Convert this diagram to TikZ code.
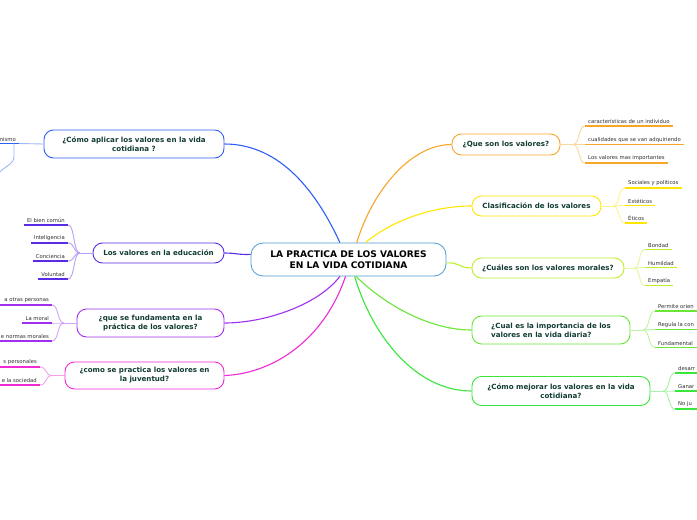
\documentclass[tikz,border=0pt]{standalone}
\usepackage{fontspec}
\setmainfont{DejaVu Sans}
\definecolor{cblue}{HTML}{4A9AD4}
\definecolor{orng}{HTML}{F7A52B}
\definecolor{ylw}{HTML}{FFE600}
\definecolor{ygrn}{HTML}{BDF02A}
\definecolor{grn1}{HTML}{6BE637}
\definecolor{grn2}{HTML}{39E639}
\definecolor{blu}{HTML}{2F5FF5}
\definecolor{pblu}{HTML}{5A2BE6}
\definecolor{prp}{HTML}{A030EE}
\definecolor{mag}{HTML}{F02AD5}
\definecolor{tdark}{HTML}{123C33}
\definecolor{tgray}{HTML}{2E2E2E}
\tikzset{
  cnode/.style={draw=cblue, line width=0.8pt, rounded corners=12pt, fill=white, align=center,
    font=\bfseries\fontsize{9.1}{11}\selectfont, text=black, inner sep=0pt,
    minimum width=195pt, minimum height=33pt},
  topic/.style={draw=#1, line width=0.9pt, rounded corners=9.5pt, fill=white, align=center,
    font=\bfseries\fontsize{7.1}{9}\selectfont, text=tdark, inner sep=0pt},
  sub/.style={font=\fontsize{5.3}{6.3}\selectfont, text=tgray, inner xsep=3pt, inner ysep=1.8pt,
    append after command={(\tikzlastnode.south west) edge[draw=#1, line width=1.6pt] (\tikzlastnode.south east)}},
  ul/.style={draw=#1, line width=1.6pt},
  conn/.style={draw=#1, line width=1.1pt},
  br/.style={draw=#1!45!white, line width=0.9pt},
}
\begin{document}
\begin{tikzpicture}[x=1pt,y=-1pt]
\fill[white] (0,0) rectangle (697,520);
\path[use as bounding box] (0,0) rectangle (697,520);
\coordinate (o) at (0,0);
\coordinate (r) at (697,0);
\begin{scope}
\clip (0,0) rectangle (697,520);
% center
\node[cnode] (c) at (348.5,259.5) {LA PRACTICA DE LOS VALORES\\EN LA VIDA COTIDIANA};
% right topics
\node[topic=orng, minimum width=108pt, minimum height=21pt] (t1) at (506,144.5) {¿Que son los valores?};
\node[topic=ylw, minimum width=129pt, minimum height=20pt] (t2) at (536.5,206) {Clasificación de los valores};
\node[topic=ygrn, minimum width=152pt, minimum height=20pt] (t3) at (548,268) {¿Cuáles son los valores morales?};
\node[topic=grn1, minimum width=158pt, minimum height=28pt, align=left] (t4) at (551,330) {¿Cual es la importancia de los\\valores en la vida diaria?};
\node[topic=grn2, minimum width=178pt, minimum height=29pt] (t5) at (561,391) {¿Cómo mejorar los valores en la vida\\cotidiana?};
% left topics
\node[topic=blu, minimum width=180pt, minimum height=28pt] (t6) at (134,144) {¿Cómo aplicar los valores en la vida\\cotidiana ?};
\node[topic=pblu, minimum width=131pt, minimum height=20pt] (t7) at (158.5,253) {Los valores en la educación};
\node[topic=prp, minimum width=147pt, minimum height=28pt] (t8) at (150.5,323) {¿que se fundamenta en la\\práctica de los valores?};
\node[topic=mag, minimum width=159pt, minimum height=27pt] (t9) at (144.5,375.5) {¿como se practica los valores en\\la juventud?};
% main connectors
\draw[conn=blu] (c.117) .. controls (318,195) and (282,144) .. (t6.east);
\draw[conn=orng] (c.64) .. controls (372,192) and (410,144.5) .. (t1.west);
\draw[conn=ylw] (c.45) .. controls (398,216) and (440,206) .. (t2.west);
\draw[conn=ygrn] (c.-2) .. controls (460,262) and (458,268) .. (t3.west);
\draw[conn=grn1] (c.-66) .. controls (385,305) and (430,330) .. (t4.west);
\draw[conn=grn2] (c.-70) .. controls (372,335) and (415,391) .. (t5.west);
\draw[conn=pblu] (c.177) .. controls (240,255) and (235,253) .. (t7.east);
\draw[conn=prp] (c.-117) .. controls (318,305) and (265,323) .. (t8.east);
\draw[conn=mag] (c.-100) .. controls (322,345) and (268,374) .. (t9.east);
% orange subtopics
\coordinate (f1) at (573,144.5);
\node[sub=orng, anchor=south west] (s11) at (585,126) {características de un individuo};
\node[sub=orng, anchor=south west] (s12) at (585,144.5) {cualidades que se van adquiriendo};
\node[sub=orng, anchor=south west] (s13) at (585,163) {Los valores mas importantes};
\draw[br=orng] (t1.east) -- (f1);
\foreach \s in {s11,s12,s13} \draw[br=orng] (f1) .. controls +(7,0) and +(-7,0) .. (\s.south west);
% yellow subtopics
\coordinate (f2) at (613,206);
\node[sub=ylw, anchor=south west] (s21) at (625,188) {Sociales y políticos};
\node[sub=ylw, anchor=south west] (s22) at (625,205.5) {Estéticos};
\node[sub=ylw, anchor=south west] (s23) at (625,223) {Éticos};
\draw[br=ylw] (t2.east) -- (f2);
\foreach \s in {s21,s22,s23} \draw[br=ylw] (f2) .. controls +(7,0) and +(-7,0) .. (\s.south west);
% yellow-green subtopics
\coordinate (f3) at (634,268);
\node[sub=ygrn, anchor=south west] (s31) at (645,249.5) {Bondad};
\node[sub=ygrn, anchor=south west] (s32) at (645,267.5) {Humildad};
\node[sub=ygrn, anchor=south west] (s33) at (645,285.5) {Empatía};
\draw[br=ygrn] (t3.east) -- (f3);
\foreach \s in {s31,s32,s33} \draw[br=ygrn] (f3) .. controls +(7,0) and +(-7,0) .. (\s.south west);
% green subtopics
\coordinate (f4) at (643,330);
\node[sub=grn1, anchor=south west] (s41) at (655,311) {Permite orien};
\node[sub=grn1, anchor=south west] (s42) at (655,329.5) {Regula la con};
\node[sub=grn1, anchor=south west] (s43) at (655,347.5) {Fundamental};
\draw[br=grn1] (t4.east) -- (f4);
\foreach \s in {s41,s42,s43} {\draw[br=grn1] (f4) .. controls +(7,0) and +(-7,0) .. (\s.south west);
  \draw[ul=grn1] (\s.south east) -- (\s.south east -| r);}
% green2 subtopics
\coordinate (f5) at (663,391);
\node[sub=grn2, anchor=south west] (s51) at (675,373) {desarr};
\node[sub=grn2, anchor=south west] (s52) at (675,391) {Ganar};
\node[sub=grn2, anchor=south west] (s53) at (675,409) {No ju};
\draw[br=grn2] (t5.east) -- (f5);
\foreach \s in {s51,s52,s53} {\draw[br=grn2] (f5) .. controls +(7,0) and +(-7,0) .. (\s.south west);
  \draw[ul=grn2] (\s.south east) -- (\s.south east -| r);}
% blue subtopic
\node[sub=blu, anchor=south east] (s61) at (19,143.5) {nismo};
\draw[ul=blu] (s61.south west) -- (s61.south west -| o);
\draw[br=blu] (t6.west) -- (s61.south east);
\coordinate (b1) at (14,143.5);
\coordinate (b2) at (0,172);
\draw[br=blu] (b1) -- ++(0,13) .. controls +(0,8) and +(5,-6) .. (b2);
% purple-blue subtopics
\coordinate (f7) at (80,253);
\node[sub=pblu, anchor=south east] (s71) at (68,225) {El bien común};
\node[sub=pblu, anchor=south east] (s72) at (68,243) {Inteligencia};
\node[sub=pblu, anchor=south east] (s73) at (68,261) {Conciencia};
\node[sub=pblu, anchor=south east] (s74) at (68,279) {Voluntad};
\draw[br=pblu] (t7.west) -- (f7);
\foreach \s in {s71,s72,s73,s74} \draw[br=pblu] (f7) .. controls +(-7,0) and +(7,0) .. (\s.south east);
% purple subtopics
\coordinate (f8) at (64,323);
\node[sub=prp, anchor=south east] (s81) at (52,305) {a otras personas};
\node[sub=prp, anchor=south east] (s82) at (52,323) {La moral};
\node[sub=prp, anchor=south east] (s83) at (52,341) {e normas morales};
\draw[ul=prp] (s81.south west) -- (s81.south west -| o);
\draw[ul=prp] (s83.south west) -- (s83.south west -| o);
\draw[br=prp] (t8.west) -- (f8);
\foreach \s in {s81,s82,s83} \draw[br=prp] (f8) .. controls +(-7,0) and +(7,0) .. (\s.south east);
% magenta subtopics
\coordinate (f9) at (52,375.5);
\node[sub=mag, anchor=south east] (s91) at (40,367) {s personales};
\node[sub=mag, anchor=south east] (s92) at (40,385) {e la sociedad};
\draw[ul=mag] (s91.south west) -- (s91.south west -| o);
\draw[ul=mag] (s92.south west) -- (s92.south west -| o);
\draw[br=mag] (t9.west) -- (f9);
\foreach \s in {s91,s92} \draw[br=mag] (f9) .. controls +(-7,0) and +(7,0) .. (\s.south east);
\end{scope}
\end{tikzpicture}
\end{document}
